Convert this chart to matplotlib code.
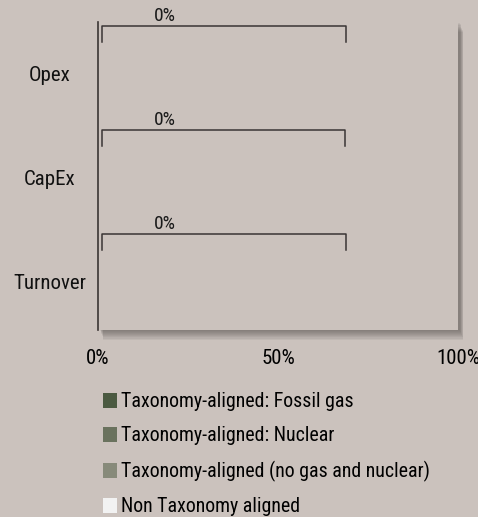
import numpy as np
import matplotlib.pyplot as plt
from matplotlib.patches import Rectangle, Patch

# --- Data ---
categories = ['Turnover', 'CapEx', 'Opex']
fossil_gas = [0, 0, 0]
nuclear = [0, 0, 0]
no_gas_nuclear = [0, 0, 0]
bracket_end = [69, 68.5, 69]          # right end of the label bracket (%)
label_texts = ['0%', '0%', '0%']
xticks = [0, 50, 100]
xtick_labels = ['0%', '50%', '100%']

series_names = ['Taxonomy-aligned: Fossil gas',
                'Taxonomy-aligned: Nuclear',
                'Taxonomy-aligned (no gas and nuclear)',
                'Non Taxonomy aligned']
series_colors = ['#4b5a41', '#6a725e', '#878a7a', '#f2f2f2']

bg = '#cbc2bd'

plt.rcParams['font.family'] = ['Roboto Condensed', 'DejaVu Sans']

fig = plt.figure(figsize=(4.78, 5.17), dpi=100, facecolor=bg)
ax = fig.add_axes([0.205, 0.362, 0.753, 0.595])
ax.set_facecolor(bg)

# soft drop shadow to the right and below the plot area
pos = ax.get_position()
for k in range(1, 10):
    fig.patches.append(Rectangle((pos.x0 + 0.004 + k * 0.0008, pos.y0 - k * 0.0021),
                                 pos.width, pos.height, transform=fig.transFigure,
                                 facecolor='#5a5450', alpha=0.09, edgecolor='none', zorder=0))
ax.set_zorder(1)

y = np.arange(len(categories))
left = np.zeros(len(categories))
for vals, c in zip([fossil_gas, nuclear, no_gas_nuclear], series_colors[:3]):
    ax.barh(y, vals, left=left, color=c, height=0.5)
    left = left + np.array(vals)

# bracket callouts with value labels
for yi, xe, t in zip(y, bracket_end, label_texts):
    yt = yi + 0.475
    ax.plot([1, 1, xe, xe], [yt - 0.155, yt, yt, yt - 0.155], color='#3a3534', lw=1.1,
            clip_on=False, solid_joinstyle='round')
    ax.text(xe * 0.27, yt + 0.01, t, ha='center', va='bottom', fontsize=14, color='#1a1a1a')

ax.set_xlim(0, 100)
ax.set_ylim(-0.45, 2.51)
ax.set_xticks(xticks)
ax.set_xticklabels(xtick_labels, fontsize=15)
ax.set_yticks(y)
ax.set_yticklabels([])
for yi, c in zip(y, categories):
    ax.text(-0.135, yi, c, transform=ax.get_yaxis_transform(), ha='center', va='center',
            fontsize=15, color='#111111')
ax.tick_params(axis='both', length=0, pad=14)
for s in ['top', 'right', 'bottom']:
    ax.spines[s].set_visible(False)
ax.spines['left'].set_color('#3a3534')
ax.spines['left'].set_linewidth(1.2)

handles = [Patch(facecolor=c, edgecolor='none', label=n) for c, n in zip(series_colors, series_names)]
fig.legend(handles=handles, loc='upper left', bbox_to_anchor=(0.198, 0.257), frameon=False,
           fontsize=14.3, handlelength=0.75, handleheight=0.8, handletextpad=0.2,
           labelspacing=0.77, borderaxespad=0)

fig.savefig('out.png', dpi=100, facecolor=bg)
